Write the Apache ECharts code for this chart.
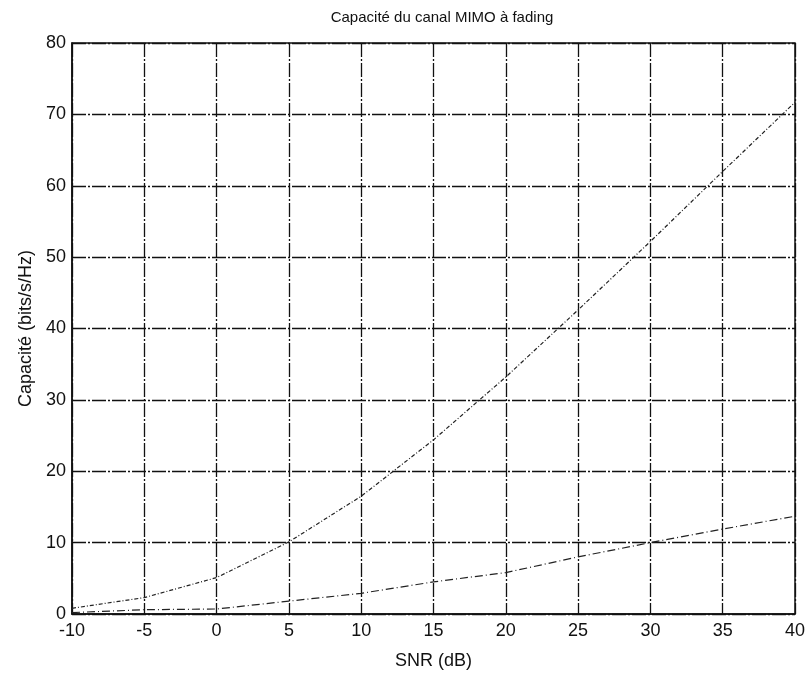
<!DOCTYPE html>
<html>
<head>
<meta charset="utf-8">
<script src="https://cdn.jsdelivr.net/npm/echarts@6/dist/echarts.min.js"></script>
<style>
  html, body { margin: 0; padding: 0; background: #fff; }
  #chart { width: 809px; height: 673px; }
</style>
</head>
<body>
<div id="chart"></div>
<script>
  var snr = [-10, -5, 0, 5, 10, 15, 20, 25, 30, 35, 40];
  var capHaute = [0.8, 2.3, 5.1, 10.1, 16.5, 24.4, 33.2, 42.6, 52.2, 62.0, 71.7]; // courbe du haut
  var capBasse = [0.2, 0.6, 0.7, 1.8, 2.9, 4.5, 5.8, 8.0, 10.0, 11.9, 13.7]; // courbe du bas

  var myChart = echarts.init(document.getElementById('chart'));

  var gridLine = { show: true, lineStyle: { color: '#111', width: 1.3, type: [14, 2, 2, 2] } };
  var font = 'Liberation Sans, Arial, sans-serif';

  var option = {
    backgroundColor: '#fff',
    animation: false,
    title: {
      text: 'Capacité du canal MIMO à fading',
      left: 437, top: 5, textAlign: 'center',
      textStyle: { fontFamily: font, fontSize: 15, fontWeight: 'normal', color: '#111' }
    },
    grid: {
      left: 72, right: 14, top: 43, bottom: 59,
      outerBoundsMode: 'none',
      show: true, borderColor: '#111', borderWidth: 1.5
    },
    xAxis: {
      type: 'value', min: -10, max: 40, interval: 5,
      name: 'SNR (dB)', nameLocation: 'middle', nameGap: 38,
      nameTextStyle: { fontFamily: font, fontSize: 18, color: '#111' },
      axisLine: { show: true, onZero: false, lineStyle: { color: '#111', width: 1.5 } },
      axisTick: { show: false },
      axisLabel: { fontFamily: font, fontSize: 18, color: '#111', margin: 8 },
      splitLine: gridLine
    },
    yAxis: {
      type: 'value', min: 0, max: 80, interval: 10,
      name: 'Capacité (bits/s/Hz)', nameLocation: 'middle', nameGap: 35,
      nameTextStyle: { fontFamily: font, fontSize: 18, color: '#111' },
      axisLine: { show: true, onZero: false, lineStyle: { color: '#111', width: 1.5 } },
      axisTick: { show: false },
      axisLabel: { fontFamily: font, fontSize: 18, color: '#111', margin: 6 },
      splitLine: gridLine
    },
    series: [
      {
        name: 'haute', type: 'line', symbol: 'none',
        data: snr.map(function (x, i) { return [x, capHaute[i]]; }),
        lineStyle: { color: '#222', width: 1.2, type: [4, 2, 1, 2] }
      },
      {
        name: 'basse', type: 'line', symbol: 'none',
        data: snr.map(function (x, i) { return [x, capBasse[i]]; }),
        lineStyle: { color: '#222', width: 1.2, type: [8, 3, 1, 3] }
      }
    ]
  };

  option && myChart.setOption(option);
</script>
</body>
</html>
